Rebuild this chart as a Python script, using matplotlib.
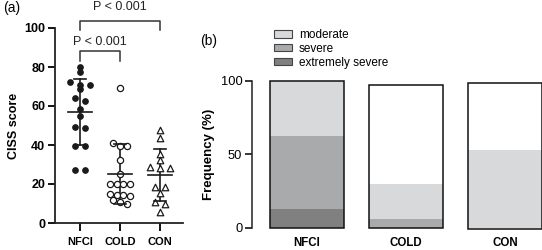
import matplotlib
matplotlib.use("Agg")
import matplotlib.pyplot as plt
import numpy as np
from matplotlib.patches import Patch

plt.rcParams['font.family'] = ['Liberation Sans', 'DejaVu Sans']

# ---------------- data ----------------
groups = ["NFCI", "COLD", "CON"]
nfci_scores = [80.2, 77.3, 72.4, 71.0, 71.0, 68.7, 63.9, 62.6, 58.5, 55.0,
               49.4, 48.5, 39.6, 39.6, 27.2, 27.2]
cold_scores = [69.0, 41.0, 39.5, 39.5, 32.5, 25.0, 20.0, 20.0, 20.0, 20.0,
               15.0, 14.5, 14.0, 14.5, 12.0, 11.0, 10.0]
con_scores = [47.5, 43.7, 35.2, 32.3, 28.9, 28.2, 28.2, 18.6, 18.6, 15.2,
              10.6, 10.0, 5.5]
group_means = [57.0, 25.0, 24.6]
group_sds = [16.8, 15.5, 13.2]
p_labels = ["P < 0.001", "P < 0.001"]

extremely_severe = [12.9, 0.0, 0.0]
severe = [49.5, 5.9, 0.0]
moderate = [37.6, 24.2, 52.8]
bar_totals = [100.0, 97.0, 98.5]
bar_starts = [0.0, 0.0, -0.5]

# ---------------- figure ----------------
fig = plt.figure(figsize=(5.42, 2.5), dpi=100)
W, H = 542.0, 250.0

def ax_rect(x0, y_bottom, x1, y_top):
    return [x0 / W, (H - y_bottom) / H, (x1 - x0) / W, (y_bottom - y_top) / H]

# ---- panel (a) ----
axa = fig.add_axes(ax_rect(55, 223, 183, 28))
axa.set_xlim(-0.625, 2.575)
axa.set_ylim(0, 100)
for s in ["top", "right"]:
    axa.spines[s].set_visible(False)
for s in ["left", "bottom"]:
    axa.spines[s].set_linewidth(1.3)
    axa.spines[s].set_color("#222222")

def swarm_offsets(vals, thresh=2.2, spacing=0.2):
    vals = np.asarray(vals, float)
    order = np.argsort(-vals, kind="stable")
    offs = np.zeros(len(vals))
    rows = []
    cur = [order[0]]
    for idx in order[1:]:
        if abs(vals[cur[0]] - vals[idx]) <= thresh:
            cur.append(idx)
        else:
            rows.append(cur)
            cur = [idx]
    rows.append(cur)
    for r in rows:
        n = len(r)
        for i, idx in enumerate(r):
            offs[idx] = (i - (n - 1) / 2) * spacing
    return offs

score_sets = [nfci_scores, cold_scores, con_scores]
marker_styles = [
    dict(marker="o", s=16, facecolor="#1a1a1a", edgecolor="#1a1a1a", linewidths=0.8),
    dict(marker="o", s=20, facecolor="white", edgecolor="#1a1a1a", linewidths=0.9),
    dict(marker="^", s=22, facecolor="white", edgecolor="#1a1a1a", linewidths=0.9),
]
spacings = [0.25, 0.17, 0.25]
for i, (vals, st) in enumerate(zip(score_sets, marker_styles)):
    offs = swarm_offsets(vals, spacing=spacings[i])
    axa.scatter(i + offs, vals, zorder=3, clip_on=False, **st)
    m, sd = group_means[i], group_sds[i]
    axa.plot([i - 0.31, i + 0.31], [m, m], color="#1a1a1a", lw=1.2, zorder=4)
    axa.plot([i, i], [m - sd, m + sd], color="#1a1a1a", lw=1.2, zorder=2)
    for yv in (m - sd, m + sd):
        axa.plot([i - 0.15, i + 0.15], [yv, yv], color="#1a1a1a", lw=1.2, zorder=4)

axa.set_yticks([0, 20, 40, 60, 80, 100])
axa.set_xticks([0, 1, 2])
axa.set_xticklabels(groups, fontsize=8, fontweight="bold")
axa.tick_params(axis="y", labelsize=9, width=1.3, length=5, pad=2)
axa.tick_params(axis="x", width=1.3, length=6, pad=4)
for lab in axa.get_yticklabels():
    lab.set_fontweight("bold")
axa.set_ylabel("CISS score", fontsize=9, fontweight="bold", labelpad=3)

# significance brackets
def bracket(x0, x1, ytop, ydrop, text, gap):
    axa.plot([x0, x0, x1, x1], [ydrop, ytop, ytop, ydrop], color="#333333",
             lw=1.1, clip_on=False)
    axa.text((x0 + x1) / 2, ytop + gap, text, ha="center", va="bottom",
             fontsize=9, color="#222222", clip_on=False)

bracket(0, 1, 88.4, 83.0, p_labels[0], 1.5)
bracket(0, 2, 103.6, 99.0, p_labels[1], 4.0)

fig.text(3 / W, 1 - 15 / H, "(a)", fontsize=10, ha="left", va="bottom")
fig.text(200 / W, 1 - 48 / H, "(b)", fontsize=10, ha="left", va="bottom")

# ---- panel (b) ----
axb = fig.add_axes(ax_rect(252, 230.2, 542, 79.5))
axb.set_xlim(-0.556, 2.37)
axb.set_ylim(-1.5, 101)
for s in ["top", "right", "bottom"]:
    axb.spines[s].set_visible(False)
axb.spines["left"].set_bounds(0, 100)
axb.spines["left"].set_linewidth(1.1)
axb.spines["left"].set_color("#222222")

xpos = np.arange(len(groups))
bw = 0.75
colors = {"extremely severe": "#808081", "severe": "#a9aaac", "moderate": "#d8d9da"}
bottom = np.zeros(len(groups))
axb.bar(xpos, extremely_severe, bw, bottom=bottom, color=colors["extremely severe"],
        edgecolor="none")
bottom = bottom + np.array(extremely_severe)
axb.bar(xpos, severe, bw, bottom=bottom, color=colors["severe"], edgecolor="none")
bottom = bottom + np.array(severe)
axb.bar(xpos, moderate, bw, bottom=bottom, color=colors["moderate"], edgecolor="none")
axb.bar(xpos, np.array(bar_totals) - np.array(bar_starts), bw, bottom=bar_starts,
        facecolor="none", edgecolor="#111111", linewidth=1.1, clip_on=False)

axb.set_yticks([0, 50, 100])
axb.set_xticks(xpos)
axb.set_xticklabels(groups, fontsize=8.3, fontweight="bold")
axb.tick_params(axis="y", labelsize=9.3, width=1.1, length=5, pad=2)
axb.tick_params(axis="x", length=0, pad=5)
axb.set_ylabel("Frequency (%)", fontsize=9.5, fontweight="bold", labelpad=4)

handles = [Patch(facecolor=colors[k], edgecolor="#444444", linewidth=0.8, label=k)
           for k in ["moderate", "severe", "extremely severe"]]
fig.legend(handles=handles, loc="upper left", bbox_to_anchor=(274 / W, 1 - 29 / H),
           frameon=False, fontsize=8.5, handlelength=1.5, handleheight=0.6,
           handletextpad=0.6, labelspacing=0.15, borderpad=0, borderaxespad=0)

fig.savefig("out.png", dpi=100)
